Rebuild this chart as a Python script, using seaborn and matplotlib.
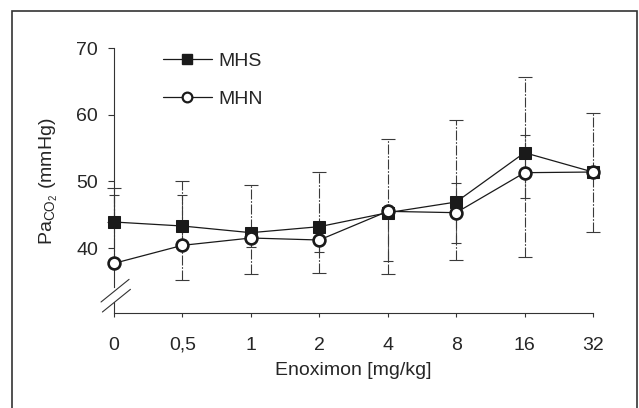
import numpy as np
import pandas as pd
import matplotlib
matplotlib.use("Agg")
import matplotlib.pyplot as plt
import seaborn as sns
from matplotlib.lines import Line2D
from matplotlib.patches import Rectangle

# ---- data ----
doses = ["0", "0,5", "1", "2", "4", "8", "16", "32"]
mhs = [43.9, 43.3, 42.3, 43.2, 45.3, 46.9, 54.3, 51.4]
mhn = [37.7, 40.4, 41.5, 41.2, 45.5, 45.3, 51.3, 51.4]
mhs_upper = [49.0, 50.0, 49.5, 51.4, 56.3, 59.2, 65.7, 60.2]
mhs_lower = [43.9, 35.2, 36.1, 36.2, 36.1, 38.2, 38.7, 42.4]
mhn_upper = [48.0, 48.0, 41.5, 41.2, 45.5, 49.7, 57.0, 51.4]
mhn_lower = [37.7, 40.4, 40.1, 39.4, 38.1, 40.7, 47.5, 51.4]
yticks = [40, 50, 60, 70]

sns.set_style("white")
plt.rcParams["font.family"] = ["Liberation Sans", "DejaVu Sans"]
plt.rcParams["mathtext.fontset"] = "custom"
plt.rcParams["mathtext.rm"] = "Liberation Sans"
plt.rcParams["mathtext.it"] = "Liberation Sans"

pos = np.arange(len(doses))
df = pd.DataFrame({"pos": np.concatenate([pos, pos]),
                   "value": mhs + mhn,
                   "group": ["MHS"] * len(doses) + ["MHN"] * len(doses)})

fig = plt.figure(figsize=(6.39, 4.08), dpi=100)
ax = fig.add_axes([93.5 / 639, 1 - 328 / 408, 520 / 639, 293.3 / 408])
ax.set_xlim(-0.3, 7.3)
ax.set_ylim(28, 72)

ink = "#1a1a1a"
# error bars
def draw_err(mean, lo, hi, cap):
    m = np.array(mean); l = np.array(lo); h = np.array(hi)
    eb = ax.errorbar(pos, m, yerr=[m - l, h - m], fmt="none", ecolor="#3a3a3a",
                     elinewidth=0.8, capsize=cap, capthick=0.8, zorder=2)
    for lc in eb[2]:
        lc.set_linestyle((0, (9, 1.5, 1.5, 1.5)))
draw_err(mhs, mhs_lower, mhs_upper, 5)
draw_err(mhn, mhn_lower, mhn_upper, 3.5)

sub = df[df.group == "MHS"]
sns.lineplot(data=sub, x="pos", y="value", ax=ax, color=ink, lw=0.9,
             marker="s", markersize=8, markerfacecolor=ink, markeredgecolor=ink,
             zorder=3, legend=False)
sub = df[df.group == "MHN"]
sns.lineplot(data=sub, x="pos", y="value", ax=ax, color=ink, lw=0.9,
             marker="o", markersize=8.5, markerfacecolor="white",
             markeredgecolor=ink, markeredgewidth=1.9, zorder=4, legend=False)

# axes styling
for s in ["top", "right"]:
    ax.spines[s].set_visible(False)
ax.spines["left"].set_position(("data", 0))
ax.spines["left"].set_bounds(34.2, 70)
ax.spines["bottom"].set_position(("data", 30.25))
ax.spines["bottom"].set_bounds(0, 7)
for s in ["left", "bottom"]:
    ax.spines[s].set_color("#333333")
    ax.spines[s].set_linewidth(0.8)

ax.set_yticks(yticks)
ax.set_yticklabels([str(t) for t in yticks])
ax.set_xticks(pos)
ax.set_xticklabels(doses)
ax.tick_params(axis="y", direction="out", length=4.5, width=0.8, pad=7,
               labelsize=14, color="#333333", left=True)
ax.tick_params(axis="x", direction="out", length=3, width=0.8, pad=14,
               labelsize=14, color="#333333", bottom=True)

# axis break
ax.plot([0, 0], [30.25, 31.9], color="#333333", lw=0.8, clip_on=False)
ax.plot([-0.19, 0.22], [31.9, 35.3], color="#333333", lw=0.8, clip_on=False)
ax.plot([-0.17, 0.24], [30.4, 33.8], color="#333333", lw=0.8, clip_on=False)

ax.set_xlabel("Enoximon [mg/kg]", fontsize=14, labelpad=6)
ax.set_ylabel(r"Pa$_{\mathrm{CO}_2}$ (mmHg)", fontsize=14, labelpad=12)

handles = [Line2D([], [], color=ink, lw=0.9, marker="s", markersize=7,
                  markerfacecolor=ink, markeredgecolor=ink),
           Line2D([], [], color=ink, lw=0.9, marker="o", markersize=7,
                  markerfacecolor="white", markeredgecolor=ink, markeredgewidth=1.6)]
ax.legend(handles, ["MHS", "MHN"], loc="upper left",
          bbox_to_anchor=(163 / 639, 1 - 52 / 408), bbox_transform=fig.transFigure,
          frameon=False, fontsize=14, handlelength=2.5, handletextpad=0.35,
          labelspacing=1.06, borderpad=0, borderaxespad=0)

fig.patches.append(Rectangle((12 / 639, -0.05), (637 - 12) / 639, 1 - 11 / 408 + 0.05,
                             transform=fig.transFigure, fill=False,
                             edgecolor="#333333", lw=1.2))

fig.savefig("out.png", dpi=100)
